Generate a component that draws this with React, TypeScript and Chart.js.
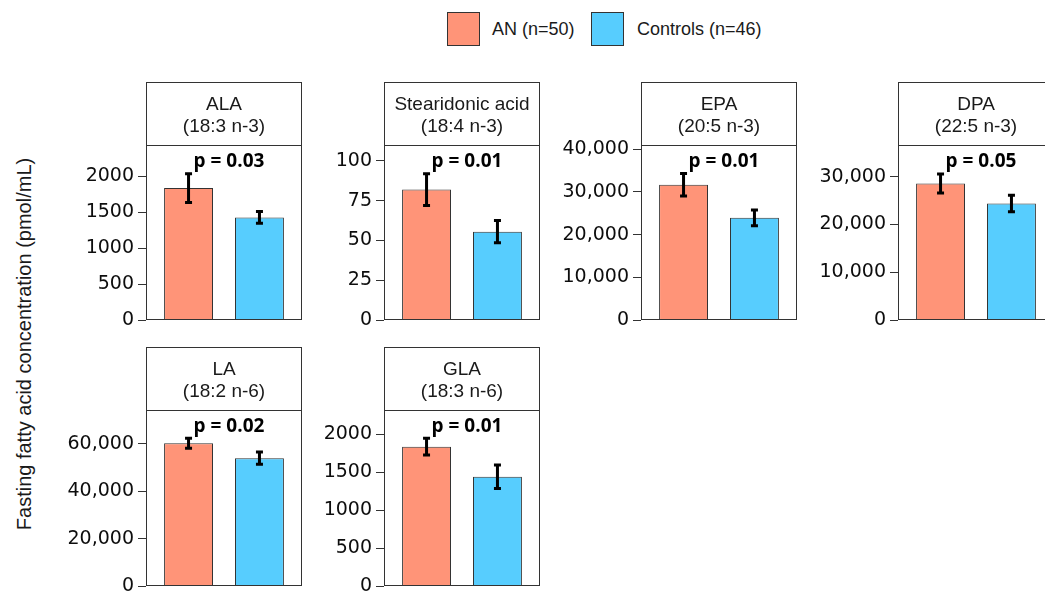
import React, { useEffect, useRef } from 'react';
import { Chart, registerables } from 'chart.js';

Chart.register(...registerables);

// ---------- data ----------
const panelNames = ['ALA', 'Stearidonic acid', 'EPA', 'DPA', 'LA', 'GLA'];
const panelFormulas = ['(18:3 n-3)', '(18:4 n-3)', '(20:5 n-3)', '(22:5 n-3)', '(18:2 n-6)', '(18:3 n-6)'];
const groupLabels = ['AN (n=50)', 'Controls (n=46)'];
const anMeans = [1840, 82, 31700, 28600, 60300, 1833];
const anSE = [200, 10, 2650, 2000, 2100, 110];
const controlMeans = [1430, 55.5, 23950, 24400, 54000, 1438];
const controlSE = [82, 7, 1850, 1750, 2600, 155];
const pLabels = ['p = 0.03', 'p = 0.01', 'p = 0.01', 'p = 0.05', 'p = 0.02', 'p = 0.01'];
const yMaxes = [2440, 110, 41000, 36650, 74360, 2316];
const yTickSteps = [500, 25, 10000, 10000, 20000, 500];
const yAxisTitle = 'Fasting fatty acid concentration (pmol/mL)';

// ---------- style / layout ----------
const AN_COLOR = '#FF9478';
const CTRL_COLOR = '#57CDFE';
const EDGE = '#333333';
const AXW = 90; // y-axis area width
const PANEL_W = 156;
const RIGHT_PAD = 3;
const BOTTOM_PAD = 18;
const panelLefts = [146, 384, 641, 898, 146, 384];
const panelTops = [82, 82, 82, 82, 347, 347];
const panelBottoms = [320, 320, 320, 320, 586, 586];

function formatTick(v: number): string {
  return Math.abs(v) >= 10000 ? v.toLocaleString('en-US') : String(v);
}

function Panel({ index }: { index: number }) {
  const ref = useRef<HTMLCanvasElement | null>(null);
  const width = AXW + PANEL_W + RIGHT_PAD;
  const height = panelBottoms[index] - panelTops[index] + BOTTOM_PAD;

  useEffect(() => {
    if (!ref.current) return;
    const means = [anMeans[index], controlMeans[index]];
    const ses = [anSE[index], controlSE[index]];

    const facetPlugin = {
      id: 'facetPlugin',
      afterDatasetsDraw(chart: any) {
        const { ctx, chartArea } = chart;
        const yScale = chart.scales.y;
        ctx.save();
        ctx.strokeStyle = '#000';
        ctx.lineWidth = 3;
        ctx.lineCap = 'butt';
        for (let d = 0; d < 2; d++) {
          const el = chart.getDatasetMeta(d).data[0];
          if (!el) continue;
          const x = el.x;
          const yTop = yScale.getPixelForValue(means[d] + ses[d]);
          const yBot = yScale.getPixelForValue(means[d] - ses[d]);
          ctx.beginPath();
          ctx.moveTo(x, yTop);
          ctx.lineTo(x, yBot);
          ctx.moveTo(x - 3.5, yTop);
          ctx.lineTo(x + 3.5, yTop);
          ctx.moveTo(x - 3.5, yBot);
          ctx.lineTo(x + 3.5, yBot);
          ctx.stroke();
        }
        ctx.fillStyle = '#000';
        ctx.font = 'bold 19px "Open Sans"';
        ctx.textAlign = 'center';
        ctx.textBaseline = 'middle';
        ctx.fillText(pLabels[index], (chartArea.left + chartArea.right) / 2 + 5, chartArea.top + 17);
        ctx.restore();
      },
      afterDraw(chart: any) {
        const { ctx, chartArea } = chart;
        const tb = chart.titleBlock;
        ctx.save();
        ctx.strokeStyle = EDGE;
        ctx.lineWidth = 1;
        const l = Math.round(chartArea.left) + 0.5;
        const r = Math.round(chartArea.right) - 0.5;
        const t = Math.round(tb.top) + 0.5;
        const m = Math.round(chartArea.top) + 0.5;
        const b = Math.round(chartArea.bottom) - 0.5;
        ctx.strokeRect(l, t, r - l, m - t);
        ctx.strokeRect(l, m, r - l, b - m);
        ctx.restore();
      },
    };

    const chart = new Chart(ref.current, {
      type: 'bar',
      data: {
        datasets: [
          {
            label: groupLabels[0],
            data: [{ x: 1, y: anMeans[index] }],
            backgroundColor: AN_COLOR,
            borderColor: EDGE,
            borderWidth: 1,
          },
          {
            label: groupLabels[1],
            data: [{ x: 2, y: controlMeans[index] }],
            backgroundColor: CTRL_COLOR,
            borderColor: EDGE,
            borderWidth: 1,
          },
        ],
      },
      options: {
        responsive: false,
        animation: false,
        events: [],
        datasets: {
          bar: { grouped: false, categoryPercentage: 1, barPercentage: 0.69 },
        } as any,
        layout: { padding: { left: 0, right: RIGHT_PAD, top: 0, bottom: BOTTOM_PAD } },
        plugins: {
          legend: { display: false },
          tooltip: { enabled: false },
          title: {
            display: true,
            text: [panelNames[index], panelFormulas[index]],
            fullSize: false,
            color: '#1a1a1a',
            font: { family: '"Liberation Sans", Arial, sans-serif', size: 19, weight: 'normal', lineHeight: 22 / 19 },
            padding: { top: 12, bottom: 7 },
          },
        },
        scales: {
          x: {
            type: 'linear',
            display: false,
            offset: false,
            bounds: 'data',
            min: 0.4,
            max: 2.6,
            grid: { offset: false },
            afterBuildTicks: (scale: any) => {
              scale.ticks = [{ value: 1 }, { value: 2 }];
            },
          },
          y: {
            min: 0,
            max: yMaxes[index],
            bounds: 'data',
            afterFit: (scale: any) => {
              scale.width = AXW;
            },
            afterBuildTicks: (scale: any) => {
              const step = yTickSteps[index];
              const ticks: { value: number }[] = [];
              for (let k = 0; k * step <= yMaxes[index]; k++) ticks.push({ value: k * step });
              scale.ticks = ticks;
            },
            border: { display: false },
            grid: {
              display: true,
              drawOnChartArea: false,
              drawTicks: true,
              tickLength: 8,
              color: EDGE,
              lineWidth: 1,
            },
            ticks: {
              padding: 4,
              color: '#0d0d0d',
              font: { family: '"DejaVu Sans", sans-serif', size: 19 },
              callback: (v: any) => formatTick(Number(v)),
            },
          },
        },
      },
      plugins: [facetPlugin],
    });
    return () => chart.destroy();
  }, [index]);

  return (
    <div
      style={{
        position: 'absolute',
        left: panelLefts[index] - AXW,
        top: panelTops[index],
        width,
        height,
      }}
    >
      <canvas ref={ref} width={width} height={height} style={{ display: 'block' }} />
    </div>
  );
}

export default function App() {
  const legendFont = '18px "Liberation Sans", Arial, sans-serif';
  return (
    <div
      style={{
        position: 'absolute',
        left: 0,
        top: 0,
        width: 1045,
        height: 592,
        overflow: 'hidden',
        background: '#fff',
      }}
    >
      {/* legend */}
      <div
        style={{
          position: 'absolute', left: 447, top: 12, width: 33, height: 34, boxSizing: 'border-box',
          border: `1.5px solid ${EDGE}`, background: AN_COLOR,
        }}
      />
      <div style={{ position: 'absolute', left: 492, top: 19, lineHeight: '22px', font: legendFont, color: '#1a1a1a', whiteSpace: 'nowrap' }}>
        {groupLabels[0]}
      </div>
      <div
        style={{
          position: 'absolute', left: 591, top: 12, width: 33, height: 34, boxSizing: 'border-box',
          border: `1.5px solid ${EDGE}`, background: CTRL_COLOR,
        }}
      />
      <div style={{ position: 'absolute', left: 637, top: 19, lineHeight: '22px', font: legendFont, color: '#1a1a1a', whiteSpace: 'nowrap' }}>
        {groupLabels[1]}
      </div>

      {/* shared y-axis title */}
      <div
        style={{
          position: 'absolute', left: 25 - 220, top: 344 - 12, width: 440, height: 24,
          lineHeight: '24px', textAlign: 'center', transform: 'rotate(-90deg)',
          font: '20px "Liberation Sans", Arial, sans-serif', color: '#1a1a1a', whiteSpace: 'nowrap',
        }}
      >
        {yAxisTitle}
      </div>

      {panelNames.map((_, i) => (
        <Panel key={i} index={i} />
      ))}
    </div>
  );
}
